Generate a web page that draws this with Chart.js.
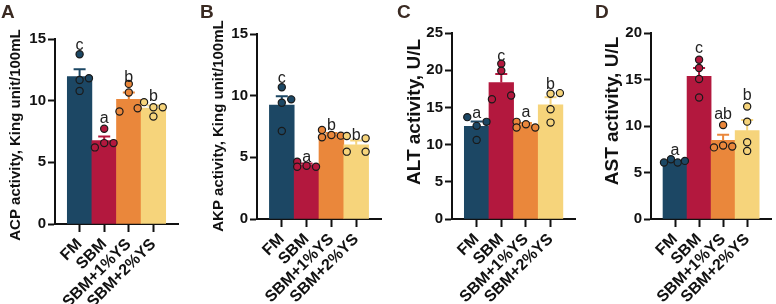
<!DOCTYPE html>
<html>
<head>
<meta charset="utf-8">
<script src="https://cdn.jsdelivr.net/npm/chart.js@4.4.1/dist/chart.umd.min.js"></script>
<style>
  html, body { margin: 0; padding: 0; background: #fff; }
  #wrap { position: relative; width: 776px; height: 304px; overflow: hidden; }
  canvas { position: absolute; top: 0; }
</style>
</head>
<body>
<div id="wrap">
  <canvas id="pA" width="192" height="304" style="left:0px"></canvas>
  <canvas id="pB" width="196" height="304" style="left:192px"></canvas>
  <canvas id="pC" width="192" height="304" style="left:388px"></canvas>
  <canvas id="pD" width="196" height="304" style="left:580px"></canvas>
</div>
<script>
// groups
const categories = ['FM', 'SBM', 'SBM+1%YS', 'SBM+2%YS']

// A - ACP
const acpMean = [11.95, 6.76, 10.1, 9.4]
const acpSem = [0.6, 0.33, 0.57, 0.2]
const acpPoints = [[13.76, 11.68, 11.82, 10.79], [7.72, 6.21, 6.56, 6.56], [11.36, 10.66, 9.12, 9.39], [9.88, 9.47, 9.47, 8.72]]
const acpSpread = [[0, 0, 0.38, 0], [0, -0.38, 0, 0.38], [0, 0, -0.38, 0.36], [-0.38, 0, 0.38, 0]]
const acpLetters = ['c', 'a', 'b', 'b']
const acpLetterAt = [14.1, 8.2, 11.5, 10.0]

// B - AKP
const akpMean = [9.24, 4.4, 6.85, 6.02]
const akpSem = [0.72, 0.1, 0.12, 0.35]
const akpPoints = [[10.68, 9.43, 9.7, 7.14], [4.65, 4.24, 4.32, 4.24], [7.22, 6.63, 6.81, 6.76], [6.73, 5.46, 6.54, 5.46]]
const akpSpread = [[0, 0, 0.38, 0], [-0.38, -0.38, 0, 0.38], [-0.38, -0.38, 0, 0.38], [-0.38, -0.38, 0.38, 0.38]]
const akpLetters = ['c', 'a', 'b', 'b']
const akpLetterAt = [11.0, 4.62, 7.2, 6.4]

// C - ALT
const altMean = [12.45, 18.35, 12.7, 15.35]
const altSem = [0.65, 1.15, 0.2, 1.0]
const altPoints = [[13.69, 12.52, 13.06, 10.63], [20.86, 19.92, 16.1, 16.6], [13.06, 12.29, 12.74, 12.29], [16.83, 16.92, 14.76, 12.96]]
const altSpread = [[-0.38, 0, 0.4, 0], [0, 0, -0.38, 0.4], [-0.38, -0.38, 0, 0.38], [0, 0.38, 0, 0]]
const altLetters = ['a', 'c', 'a', 'b']
const altLetterAt = [13.6, 21.2, 13.7, 17.5]

// D - AST
const astMean = [6.1, 15.35, 8.45, 9.5]
const astSem = [0.12, 0.9, 0.6, 1.15]
const astPoints = [[6.07, 6.43, 6.07, 6.25], [17.13, 16.24, 15.05, 13.07], [10.1, 7.7, 7.9, 7.8], [12.1, 10.47, 8.25, 7.32]]
const astSpread = [[-0.46, -0.17, 0.11, 0.41], [0, 0, 0, 0], [0, -0.38, 0, 0.38], [0, 0, 0, 0]]
const astLetters = ['a', 'c', 'ab', 'b']
const astLetterAt = [6.9, 17.8, 10.7, 12.8]

const barColors = ['#1c4764', '#b3183e', '#ea873b', '#f6d47b']
const ink = '#111111'
const fontFamily = '"Liberation Sans", Arial, Helvetica, sans-serif'

function panel(id, p) {
  const xs = categories.map((c, i) => i + 1)
  const pts = []
  const ptColors = []
  p.points.forEach((grp, i) => {
    grp.forEach((v, j) => {
      pts.push({ x: xs[i] + p.spread[i][j], y: v })
      ptColors.push(barColors[i])
    })
  })

  const extras = {
    id: 'extras',
    afterDatasetDraw(chart, args) {
      if (args.index !== 1) return
      const { ctx, scales: { x, y } } = chart
      ctx.save()
      ctx.lineWidth = 2
      p.mean.forEach((m, i) => {
        const cx = x.getPixelForValue(xs[i])
        const top = y.getPixelForValue(m + p.sem[i])
        const mid = y.getPixelForValue(m)
        ctx.strokeStyle = barColors[i]
        ctx.beginPath()
        ctx.moveTo(cx, mid)
        ctx.lineTo(cx, top)
        ctx.moveTo(cx - 6, top)
        ctx.lineTo(cx + 6, top)
        ctx.stroke()
      })
      ctx.restore()
    },
    afterDraw(chart) {
      const { ctx, scales: { x, y } } = chart
      ctx.save()
      // significance letters
      ctx.fillStyle = '#222'
      ctx.textAlign = 'center'
      ctx.textBaseline = 'alphabetic'
      ctx.font = '16px ' + fontFamily
      p.letters.forEach((t, i) => {
        ctx.fillText(t, x.getPixelForValue(xs[i]), y.getPixelForValue(p.letterAt[i]))
      })
      // panel label
      ctx.fillStyle = '#3a2a22'
      ctx.textAlign = 'left'
      ctx.font = 'bold 19px ' + fontFamily
      ctx.fillText(p.label, p.lx, 18)
      // y axis title
      ctx.fillStyle = ink
      ctx.font = 'bold ' + p.titleSize + 'px ' + fontFamily
      ctx.translate(p.tx, p.ty)
      ctx.rotate(-Math.PI / 2)
      ctx.textAlign = 'center'
      ctx.textBaseline = 'middle'
      ctx.fillText(p.title, 0, 0)
      ctx.restore()
    }
  }

  new Chart(document.getElementById(id), {
    type: 'bar',
    data: {
      datasets: [
        {
          type: 'scatter',
          data: pts,
          order: 1,
          pointRadius: 3.6,
          pointHoverRadius: 3.6,
          pointBorderWidth: 1.2,
          pointBorderColor: '#1a1a1a',
          pointBackgroundColor: ptColors,
        },
        {
          type: 'bar',
          data: p.mean.map((v, i) => ({ x: xs[i], y: v })),
          order: 2,
          backgroundColor: barColors,
          borderWidth: 0,
          barPercentage: 1,
          categoryPercentage: 1,
        },
      ],
    },
    options: {
      responsive: false,
      animation: false,
      events: [],
      layout: { padding: { left: 0, top: p.top, right: p.pr, bottom: 0 } },
      plugins: { legend: { display: false }, tooltip: { enabled: false } },
      scales: {
        x: {
          type: 'linear',
          min: 0,
          max: 5,
          offset: false,
          afterBuildTicks: (s) => { s.ticks = xs.map((v) => ({ value: v })) },
          afterFit: (s) => { s.height = 304 - p.bottom; s.paddingLeft = 0; s.paddingRight = 0 },
          ticks: {
            autoSkip: false,
            minRotation: 45,
            maxRotation: 45,
            padding: 3,
            color: ink,
            font: { family: fontFamily, size: 16, weight: 'bold' },
            callback: (v) => categories[v - 1],
          },
          grid: { offset: false, drawOnChartArea: false, tickLength: 8, tickWidth: 2, tickColor: ink },
          border: { display: true, width: 2, color: ink },
        },
        y: {
          min: 0,
          max: p.max,
          afterFit: (s) => { s.width = p.yw },
          ticks: {
            stepSize: 5,
            padding: 2,
            color: ink,
            font: { family: fontFamily, size: 15, weight: 'bold' },
          },
          grid: { drawOnChartArea: false, tickLength: 7, tickWidth: 2, tickColor: ink },
          border: { display: true, width: 2, color: ink },
        },
      },
    },
    plugins: [extras],
  })
}

panel('pA', { label: 'A', lx: 1, title: 'ACP activity, King unit/100mL', titleSize: 15, tx: 16, ty: 135, yw: 55, pr: 14, top: 39, bottom: 224, max: 15,
  mean: acpMean, sem: acpSem, points: acpPoints, spread: acpSpread, letters: acpLetters, letterAt: acpLetterAt })
panel('pB', { label: 'B', lx: 8, title: 'AKP activity, King unit/100mL', titleSize: 15, tx: 27, ty: 126, yw: 65, pr: 7, top: 34, bottom: 219, max: 15,
  mean: akpMean, sem: akpSem, points: akpPoints, spread: akpSpread, letters: akpLetters, letterAt: akpLetterAt })
panel('pC', { label: 'C', lx: 9, title: 'ALT activity, U/L', titleSize: 19, tx: 27, ty: 112, yw: 64, pr: 3, top: 33, bottom: 219, max: 25,
  mean: altMean, sem: altSem, points: altPoints, spread: altSpread, letters: altLetters, letterAt: altLetterAt })
panel('pD', { label: 'D', lx: 15, title: 'AST activity, U/L', titleSize: 19, tx: 33, ty: 111, yw: 71, pr: 2, top: 33, bottom: 219, max: 20,
  mean: astMean, sem: astSem, points: astPoints, spread: astSpread, letters: astLetters, letterAt: astLetterAt })
</script>
</body>
</html>
